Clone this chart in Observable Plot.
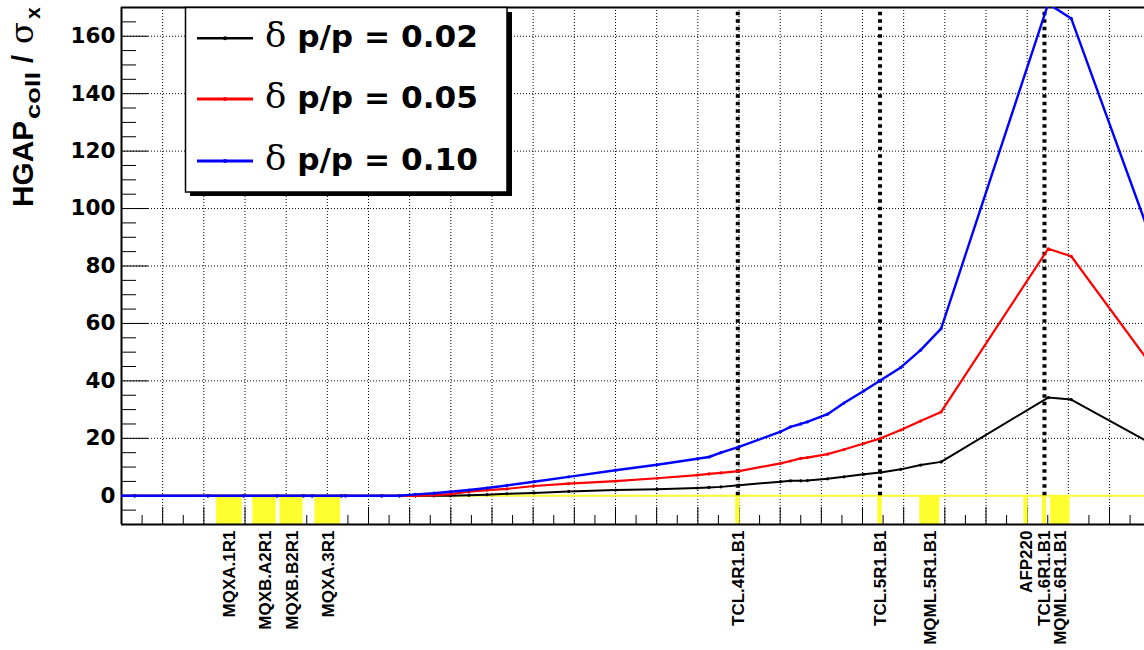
<!DOCTYPE html>
<html>
<head>
<meta charset="utf-8">
<script src="https://cdn.jsdelivr.net/npm/d3@7"></script>
<script src="https://cdn.jsdelivr.net/npm/@observablehq/plot@0.6"></script>
<style>
  html, body { margin: 0; padding: 0; background: #fff; overflow: hidden; }
  #wrap { position: relative; width: 1144px; height: 650px; }
  #chart svg { display: block; }
  #overlay { position: absolute; left: 0; top: 0; pointer-events: none; }
</style>
</head>
<body>
<div id="wrap"><div id="chart"></div></div>
<script>
// Longitudinal position s (m) from the IP
const s = [0, 3.2, 21.0, 29.7, 37.8, 44.2, 46.3, 53.4, 54.4, 63.2,
           67.5, 71.4, 75.9, 79.9, 84.4, 88.8, 93.6, 100.2, 108.6, 120.0,
           130.1, 139.9, 142.7, 145.6, 150.0, 160.1, 162.5, 165.0, 166.6, 171.5,
           175.5, 180.3, 184.4, 189.3, 194.1, 199.1, 225.1, 230.7, 250.0];

// Horizontal gap in units of sigma_x for each momentum offset
const gap002 = [0, 0, 0, 0, 0, 0, 0, 0, 0, 0,
                0, 0, 0, 0, 0.2, 0.4, 0.7, 1.0, 1.5, 2.0,
                2.3, 2.7, 2.9, 3.1, 3.7, 4.9, 5.2, 5.2, 5.3, 5.9,
                6.6, 7.5, 8.1, 9.2, 10.7, 11.8, 34.2, 33.5, 18.3];
const gap005 = [0, 0, 0, 0, 0, 0, 0, 0, 0, 0,
                0, 0, 0.2, 0.6, 1.4, 2.0, 2.4, 3.4, 4.2, 5.1,
                6.1, 7.2, 7.6, 8.0, 8.6, 11.3, 12.1, 13.0, 13.3, 14.5,
                16.1, 18.2, 20.0, 22.9, 26.0, 29.2, 86.0, 83.4, 45.8];
const gap010 = [0, 0, 0, 0, 0, 0, 0, 0, 0, 0,
                0, 0.5, 0.9, 1.4, 2.0, 2.7, 3.6, 4.9, 6.6, 8.9,
                10.8, 12.9, 13.5, 15.0, 17.0, 22.3, 24.0, 25.0, 25.7, 28.4,
                32.3, 36.5, 40.2, 44.7, 50.7, 58.2, 171.3, 166.2, 90.0];

const seriesLabels = ["0.02", "0.05", "0.10"];
const seriesColors = ["#000000", "#ff0000", "#0000ff"];

// Beam-line elements: name, start and end (m)
const elementNames = ["MQXA.1R1", "MQXB.A2R1", "MQXB.B2R1", "MQXA.3R1", "TCL.4R1.B1",
                      "TCL.5R1.B1", "MQML.5R1.B1", "AFP220", "TCL.6R1.B1", "MQML.6R1.B1"];
const elementStart = [23.1, 31.9, 38.5, 47.0, 149.2, 183.7, 193.9, 219.2, 223.7, 225.7];
const elementEnd   = [29.3, 37.6, 44.1, 53.2, 150.2, 184.8, 198.8, 220.2, 224.7, 230.4];

// Axis ticks
const xMajor = d3.range(0, 241, 10);
const xMinor = d3.range(5, 250, 10);
const yMajor = d3.range(0, 161, 20);
const yMinor = d3.range(-5, 171, 5).filter(v => v % 20 !== 0);

const W = 1144, H = 650;
const yellow = "#ffff30";
const seriesValues = [gap002, gap005, gap010];
const seriesWidths = [2, 2.2, 2.4];

const series = seriesLabels.map((label, k) => ({
  label, color: seriesColors[k], width: seriesWidths[k],
  rows: s.map((x, i) => ({s: x, gap: seriesValues[k][i]}))
}));

const elements = elementNames.map((name, i) => ({
  name, s1: elementStart[i], s2: elementEnd[i], sc: (elementStart[i] + elementEnd[i]) / 2
}));
const collimators = elements.filter(e => e.name.startsWith("TCL"));

const gridStyle = {stroke: "#000", strokeOpacity: 1, strokeWidth: 1, strokeDasharray: "1,2"};

const chart = Plot.plot({
  width: W,
  height: H,
  marginLeft: 121,
  marginRight: 0,
  marginTop: 7,
  marginBottom: 126,
  x: {domain: [0, 248.5], axis: null},
  y: {domain: [-10, 170], axis: null},
  style: {background: "#fff"},
  marks: [
    Plot.gridX(xMajor, gridStyle),
    Plot.gridY(yMajor, gridStyle),
    Plot.axisX(xMajor, {anchor: "bottom", tickSize: -17, fill: "none", stroke: "#000", label: null}),
    Plot.axisX(xMinor, {anchor: "bottom", tickSize: -9, fill: "none", stroke: "#000", label: null}),
    Plot.axisY(yMajor, {anchor: "left", tickSize: -27, fill: "none", stroke: "#000", label: null}),
    Plot.axisY(yMinor, {anchor: "left", tickSize: -15, fill: "none", stroke: "#000", label: null}),
    Plot.text(yMajor, {
      y: d => d, text: d => String(d), frameAnchor: "left", textAnchor: "end", dx: -6,
      fontFamily: "DejaVu Sans", fontWeight: "bold", fontSize: 21.5, fill: "#000"
    }),
    // element layout along the beam line
    Plot.ruleY([0], {stroke: yellow, strokeWidth: 2}),
    Plot.rect(elements, {x1: "s1", x2: "s2", y1: -10, y2: 0, fill: yellow}),
    Plot.ruleX(collimators, {x: "sc", y1: 0, y2: 170, stroke: "#000", strokeWidth: 4, strokeDasharray: "3.5,4"}),
    Plot.text(elements, {
      x: "sc", frameAnchor: "bottom", text: "name", rotate: -90, textAnchor: "end", dy: 6, dx: 6,
      fontFamily: "Liberation Sans, Arial, sans-serif", fontWeight: "bold", fontSize: 17, fill: "#000"
    }),
    // frame
    Plot.ruleX([0], {stroke: "#000", strokeWidth: 2}),
    Plot.ruleY([170], {stroke: "#000", strokeWidth: 2}),
    Plot.ruleY([-10], {stroke: "#000", strokeWidth: 2}),
    // gap curves
    ...series.flatMap(d => [
      Plot.line(d.rows, {x: "s", y: "gap", stroke: d.color, strokeWidth: d.width, clip: true}),
      Plot.dot(d.rows, {x: "s", y: "gap", r: 1.6, fill: d.color, clip: true})
    ])
  ]
});
document.getElementById("chart").appendChild(chart);

// Axis title and legend drawn on top of the plot
const ov = d3.select("#wrap").append("svg")
  .attr("id", "overlay").attr("width", W).attr("height", H);

// rotated y title, one piece per run of text: [text, start (px from top), length, font, size, weight, shift]
const titleParts = [
  ["HGAP", 207, 86, "Liberation Sans, Arial, sans-serif", 29, "bold", 0],
  ["coll", 119, 47, "Liberation Sans, Arial, sans-serif", 21, "bold", 7],
  ["/", 63, null, "Liberation Sans, Arial, sans-serif", 29, "bold", 0],
  ["σ", 44, null, "DejaVu Serif, serif", 32, "normal", 0],
  ["x", 19, null, "Liberation Sans, Arial, sans-serif", 21, "bold", 7]
];
titleParts.forEach(([txt, start, len, fam, size, weight, shift]) => {
  const t = ov.append("text")
    .attr("transform", `translate(${33 + shift},${start}) rotate(-90)`)
    .attr("font-family", fam).attr("font-weight", weight).attr("font-size", size)
    .attr("fill", "#000").text(txt);
  if (len) t.attr("textLength", len).attr("lengthAdjust", "spacingAndGlyphs");
});

const lg = ov.append("g");
lg.append("rect").attr("x", 190).attr("y", 12).attr("width", 322).attr("height", 184).attr("fill", "#000");
lg.append("rect").attr("x", 185.5).attr("y", 7.5).attr("width", 321.5).attr("height", 184.5)
  .attr("fill", "#fff").attr("stroke", "#000").attr("stroke-width", 1.5);

const rowY = [38.3, 99, 161];
series.forEach((d, k) => {
  const y = rowY[k];
  lg.append("line").attr("x1", 197).attr("x2", 253).attr("y1", y).attr("y2", y)
    .attr("stroke", d.color).attr("stroke-width", d.width + 0.6);
  lg.append("circle").attr("cx", 225).attr("cy", y).attr("r", 2).attr("fill", d.color);
  const t = lg.append("text").attr("x", 265).attr("y", y + 9)
    .attr("textLength", 213).attr("lengthAdjust", "spacingAndGlyphs")
    .attr("font-family", "DejaVu Sans").attr("font-weight", "bold").attr("font-size", 30).attr("fill", "#000");
  t.append("tspan").attr("font-family", "DejaVu Serif, serif").attr("font-weight", "normal").attr("font-size", 34).text("δ");
  t.append("tspan").text(" p/p = " + d.label);
});
</script>
</body>
</html>
